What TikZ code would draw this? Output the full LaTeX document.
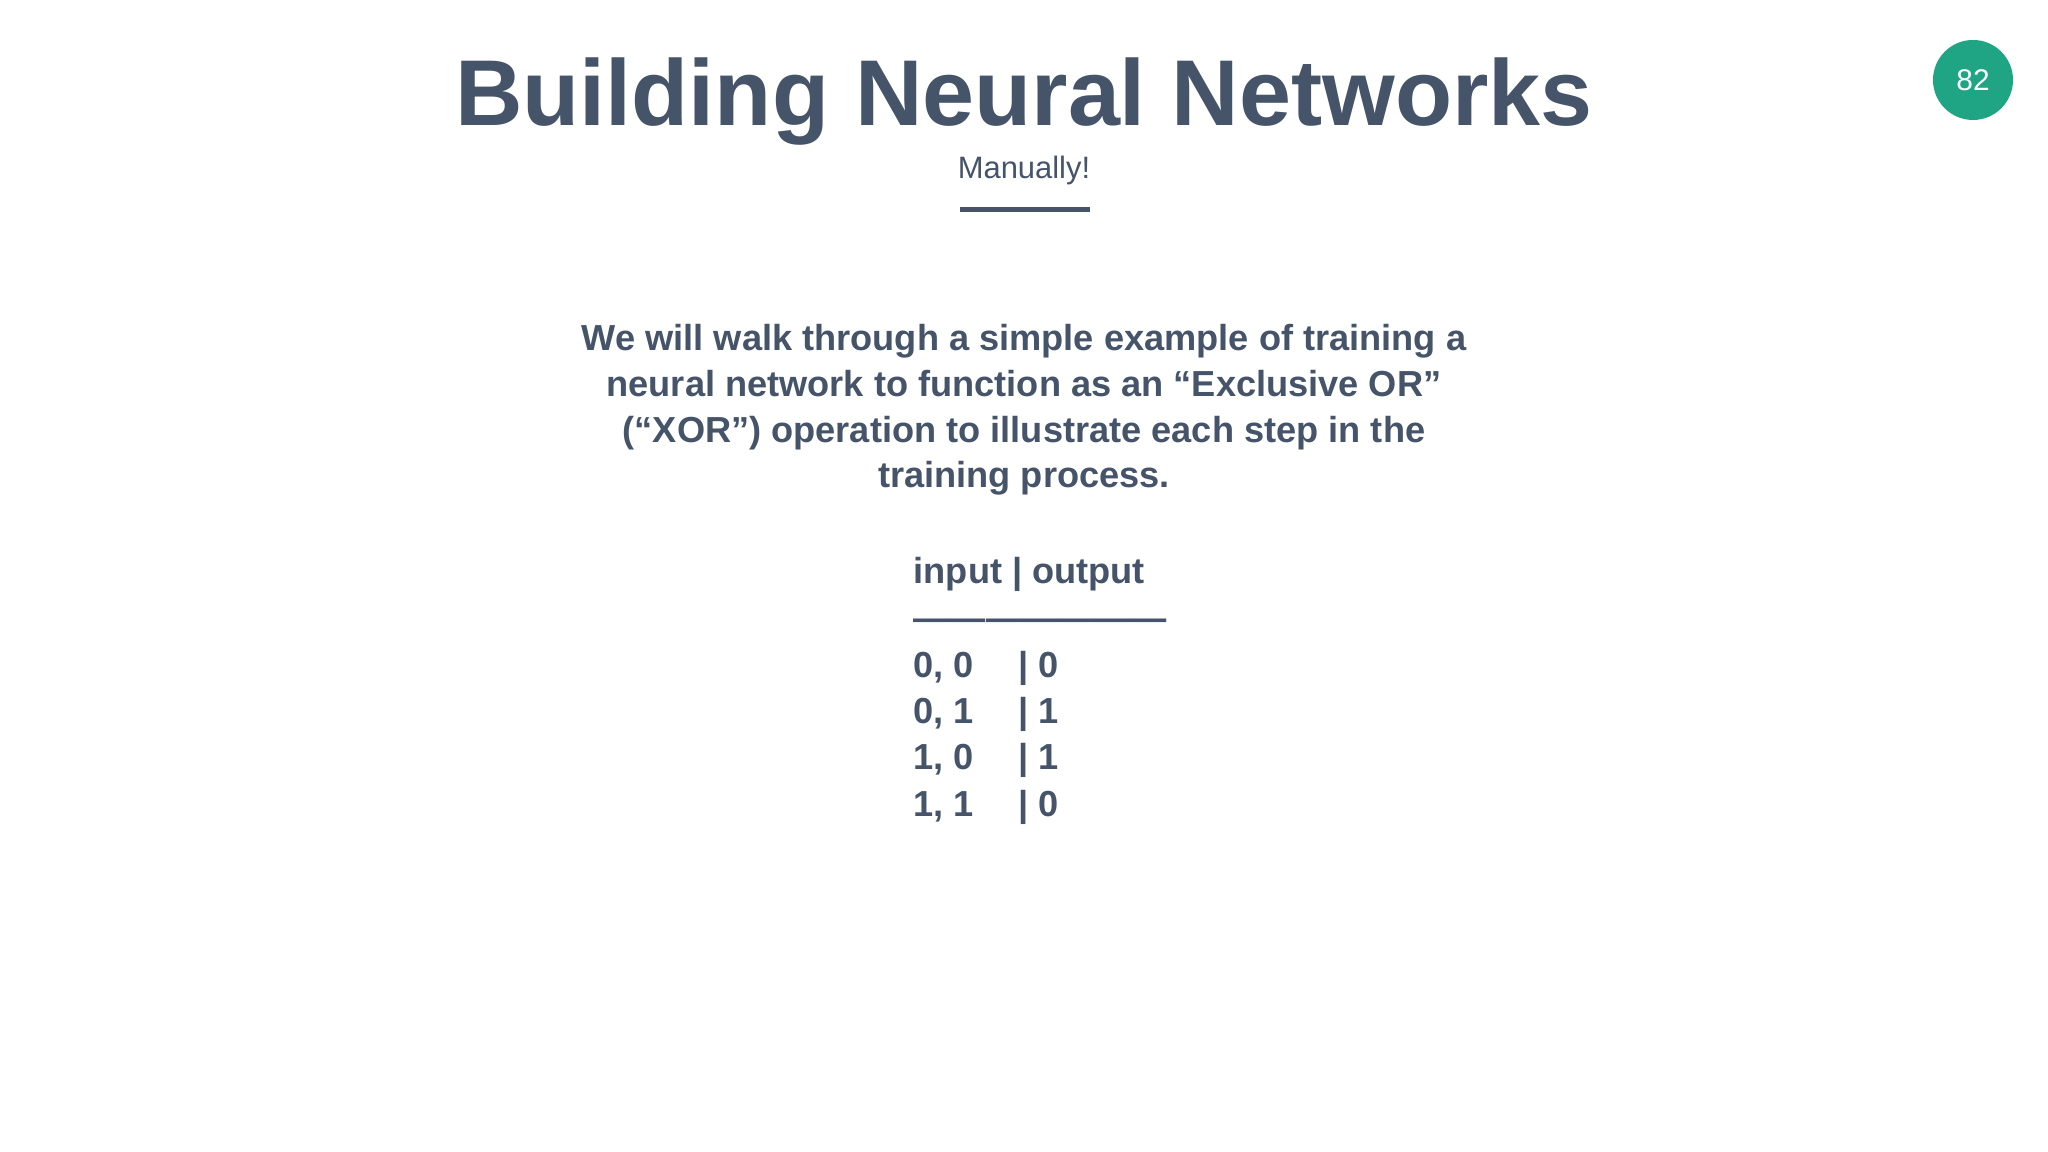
\documentclass[tikz,border=0pt]{standalone}
\usepackage{fontspec}
\setmainfont{Liberation Sans}
\definecolor{slate}{HTML}{46546A}
\definecolor{teal}{HTML}{1FA584}
\tikzset{
  txt/.style={text=slate, inner sep=0pt},
  row/.style={txt, anchor=base west, font=\bfseries\fontsize{10.3}{13}\selectfont},
}
\begin{document}
\begin{tikzpicture}
\useasboundingbox[fill=white] (0,0) rectangle (20.48,11.52);
% title
\node[txt, font=\bfseries\fontsize{26.6}{30}\selectfont] (title) at (10.24,10.5) {Building Neural Networks};
\node[txt, font=\fontsize{8.8}{10}\selectfont] (subtitle) at (10.24,9.81) {Manually!};
\fill[slate] (9.6,9.395) rectangle (10.9,9.445);
% page number
\node[circle, fill=teal, minimum size=0.8cm, inner sep=0pt, text=white, font=\fontsize{8.5}{10}\selectfont] (page) at (19.73,10.72) {82};
% body
\node[txt, align=center, font=\bfseries\fontsize{10.3}{13}\selectfont] (body) at (10.24,7.42)
  {We will walk through a simple example of training a\\
   neural network to function as an “Exclusive OR”\\
   (“XOR”) operation to illustrate each step in the\\
   training process.};
% table
\node[row] (head) at (9.13,5.68) {input | output};
\node[row] (dash) at (9.13,5.21) {---------------------};
\foreach \a/\b/\o [count=\i] in {0/0/0, 0/1/1, 1/0/1, 1/1/0} {
  \node[row] (in\i) at (9.13,{5.21-0.463*\i}) {\a, \b};
  \node[row] (out\i) at (10.18,{5.21-0.463*\i}) {| \o};
}
\end{tikzpicture}
\end{document}
